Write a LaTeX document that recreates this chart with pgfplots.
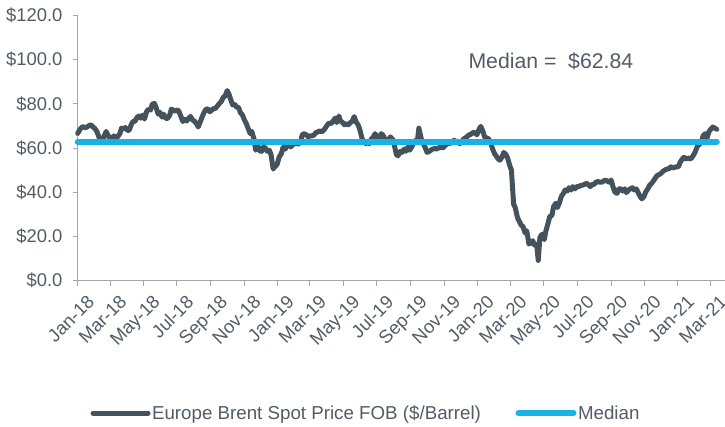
\documentclass[border=0pt]{standalone}
\usepackage{pgfplots}
\pgfplotsset{compat=1.18}
\usepackage{fontspec}
\setmainfont{Liberation Sans}
\definecolor{brent}{RGB}{68,82,92}
\definecolor{medblue}{RGB}{26,178,228}
\definecolor{txt}{RGB}{82,92,102}
\definecolor{axgray}{RGB}{166,166,166}
\begin{document}
\begin{tikzpicture}
\useasboundingbox (0,0) rectangle (725bp,427bp);
\begin{axis}[
  at={(77.7bp,146.5bp)}, anchor=south west,
  scale only axis, width=647.3bp, height=265bp,
  xmin=0, xmax=1182, ymin=0, ymax=120,
  axis x line=bottom, axis y line=left,
  axis line style={-, axgray, line width=1pt},
  clip=false,
  tick style={axgray, line width=1pt},
  tick align=outside, major tick length=5bp,
  ytick={0,20,40,60,80,100,120},
  yticklabel={\$\pgfmathprintnumber[fixed,fixed zerofill,precision=1]{\tick}},
  xtick={0,59,120,181,243,304,365,424,485,546,608,669,730,790,851,912,974,1035,1096,1155},
  xticklabels={Jan-18,Mar-18,May-18,Jul-18,Sep-18,Nov-18,Jan-19,Mar-19,May-19,Jul-19,Sep-19,Nov-19,Jan-20,Mar-20,May-20,Jul-20,Sep-20,Nov-20,Jan-21,Mar-21},
  /pgf/number format/assume math mode=true,
  ticklabel style={font=\fontsize{18.5}{22}\selectfont, text=txt},
  xticklabel style={rotate=45, anchor=north east, inner sep=1bp, yshift=-11bp, xshift=1bp},
  yticklabel style={inner sep=2bp, xshift=-8bp},
  legend style={at={(0.445,-0.5)}, anchor=center, draw=none, fill=none,
    font=\fontsize{18.8}{22}\selectfont, text=txt, legend columns=2,
    nodes={inner sep=1.5bp},
    /tikz/every even column/.append style={column sep=33bp}},
  legend image code/.code={\draw[#1] (0bp,0bp) -- (55bp,0bp);},
]
\addplot[brent, line width=5bp, line join=round, line cap=round] coordinates {
(0,66.6)(3,68.0)(7,69.3)(10,69.6)(14,69.2)(17,69.5)(21,70.2)(24,70.5)(28,69.5)(31,68.9)
(35,67.5)(38,65.5)(42,62.6)(45,63.4)(49,65.8)(52,67.5)(56,65.4)(59,64.6)(63,64.0)(66,65.5)
(70,64.5)(73,65.1)(77,66.5)(80,69.0)(84,68.7)(87,69.3)(91,68.0)(94,68.0)(98,70.7)(101,72.0)
(105,72.2)(108,73.8)(112,74.5)(115,73.5)(119,74.9)(122,73.1)(126,76.6)(129,77.5)(133,77.2)(136,79.8)
(140,80.2)(143,78.5)(147,75.3)(150,76.2)(154,74.0)(157,75.3)(161,73.4)(164,73.4)(168,74.8)(171,77.6)
(175,77.0)(178,76.7)(182,77.3)(185,76.5)(189,74.0)(192,72.0)(196,73.0)(199,72.2)(203,73.5)(206,74.3)
(210,72.6)(213,72.2)(217,71.0)(220,69.5)(224,72.0)(227,74.0)(231,76.2)(234,77.5)(238,77.7)(241,76.4)
(245,77.2)(248,77.8)(252,78.0)(255,79.0)(259,80.2)(262,81.0)(266,83.0)(269,83.5)(273,86.0)(276,84.5)
(280,81.5)(283,79.5)(287,79.8)(290,78.5)(294,78.3)(297,76.0)(301,74.9)(304,72.9)(308,71.0)(311,69.0)
(315,66.5)(318,67.5)(322,64.0)(325,59.0)(329,61.0)(332,58.7)(336,58.5)(339,60.5)(343,60.0)(346,58.5)
(350,59.0)(353,57.0)(357,50.5)(360,51.5)(364,52.5)(368,56.0)(372,57.5)(375,60.3)(379,59.5)(382,61.0)
(386,61.8)(389,60.5)(393,61.5)(396,62.0)(400,62.0)(403,61.8)(407,62.5)(410,66.0)(414,66.5)(417,66.0)
(421,65.0)(424,65.5)(428,65.5)(431,65.8)(435,67.0)(438,67.2)(442,67.8)(445,67.3)(449,68.0)(452,69.0)
(456,70.5)(459,71.3)(463,71.1)(466,72.0)(470,73.5)(473,71.5)(477,74.5)(480,72.2)(484,71.5)(487,70.5)
(491,71.0)(494,70.5)(498,71.5)(501,72.0)(505,74.2)(508,72.0)(512,70.5)(515,68.5)(519,64.5)(522,63.0)
(526,62.0)(529,62.5)(533,62.0)(536,64.0)(540,65.0)(543,66.5)(547,64.5)(550,63.0)(554,66.5)(557,66.0)
(561,64.0)(564,62.5)(568,64.0)(571,65.0)(575,64.0)(578,61.5)(582,57.0)(585,56.5)(589,58.5)(592,58.0)
(596,59.5)(599,58.5)(603,60.5)(606,59.0)(610,60.5)(613,62.0)(617,63.5)(620,62.5)(623,69.0)(627,64.5)
(631,62.0)(634,60.5)(638,58.0)(641,58.3)(645,59.0)(648,59.5)(652,59.8)(655,59.5)(659,60.0)(662,60.5)
(666,60.0)(669,60.5)(673,61.5)(676,62.5)(680,62.0)(683,62.5)(687,63.5)(690,63.0)(694,63.0)(697,62.0)
(701,62.5)(704,64.0)(708,64.5)(711,65.2)(715,66.0)(718,66.2)(722,67.0)(725,67.0)(729,66.0)(733,68.5)
(736,69.8)(740,67.5)(743,65.0)(747,64.5)(750,64.2)(754,62.6)(757,60.0)(761,57.5)(764,56.5)(768,55.0)
(771,54.5)(775,56.0)(778,58.0)(782,57.0)(785,55.5)(789,52.0)(792,50.0)(796,34.5)(799,33.0)(803,28.5)
(806,27.0)(810,25.0)(813,24.5)(817,21.5)(820,22.5)(824,16.5)(827,17.0)(831,18.0)(834,16.0)(838,16.5)
(841,9.1)(844,19.5)(848,21.0)(852,18.5)(855,22.5)(859,26.0)(862,29.0)(866,29.5)(869,33.5)(873,35.0)
(876,33.0)(880,35.5)(883,38.0)(887,39.5)(890,41.0)(894,40.5)(897,42.0)(901,41.0)(904,42.5)(908,41.5)
(911,42.5)(915,42.5)(918,43.0)(922,43.2)(925,43.5)(929,44.0)(932,43.5)(936,42.5)(939,43.5)(943,43.5)
(946,44.5)(950,44.8)(953,44.5)(957,44.5)(960,45.0)(964,45.5)(967,45.0)(971,44.5)(974,45.5)(978,42.0)
(981,40.0)(985,39.5)(988,41.5)(992,41.5)(995,40.5)(999,41.5)(1002,39.8)(1006,41.0)(1009,41.5)(1013,42.0)
(1016,41.0)(1020,41.5)(1023,40.0)(1027,38.0)(1030,37.0)(1034,38.0)(1037,40.0)(1041,41.5)(1044,43.0)(1048,44.0)
(1051,45.0)(1055,46.5)(1058,47.5)(1062,48.0)(1065,48.5)(1069,49.5)(1072,50.0)(1076,50.5)(1079,50.5)(1083,51.5)
(1086,51.0)(1090,51.2)(1093,51.5)(1097,51.5)(1100,53.5)(1104,55.0)(1107,55.8)(1111,55.0)(1114,55.5)(1118,55.0)
(1121,55.5)(1125,57.0)(1128,58.5)(1132,61.0)(1135,61.5)(1139,63.0)(1142,65.5)(1146,66.5)(1149,64.5)(1153,67.5)
(1156,68.5)(1160,69.5)(1163,69.0)(1167,68.5)
};
\addlegendentry{Europe Brent Spot Price FOB (\$/Barrel)}
\addplot[medblue, line width=6bp, line cap=round] coordinates {(0,62.84)(1167,62.84)};
\addlegendentry{Median}
\node[font=\fontsize{21.3}{25}\selectfont, text=txt] at (axis cs:864,99.2) {Median =\ \ \$62.84};
\end{axis}
\end{tikzpicture}
\end{document}
